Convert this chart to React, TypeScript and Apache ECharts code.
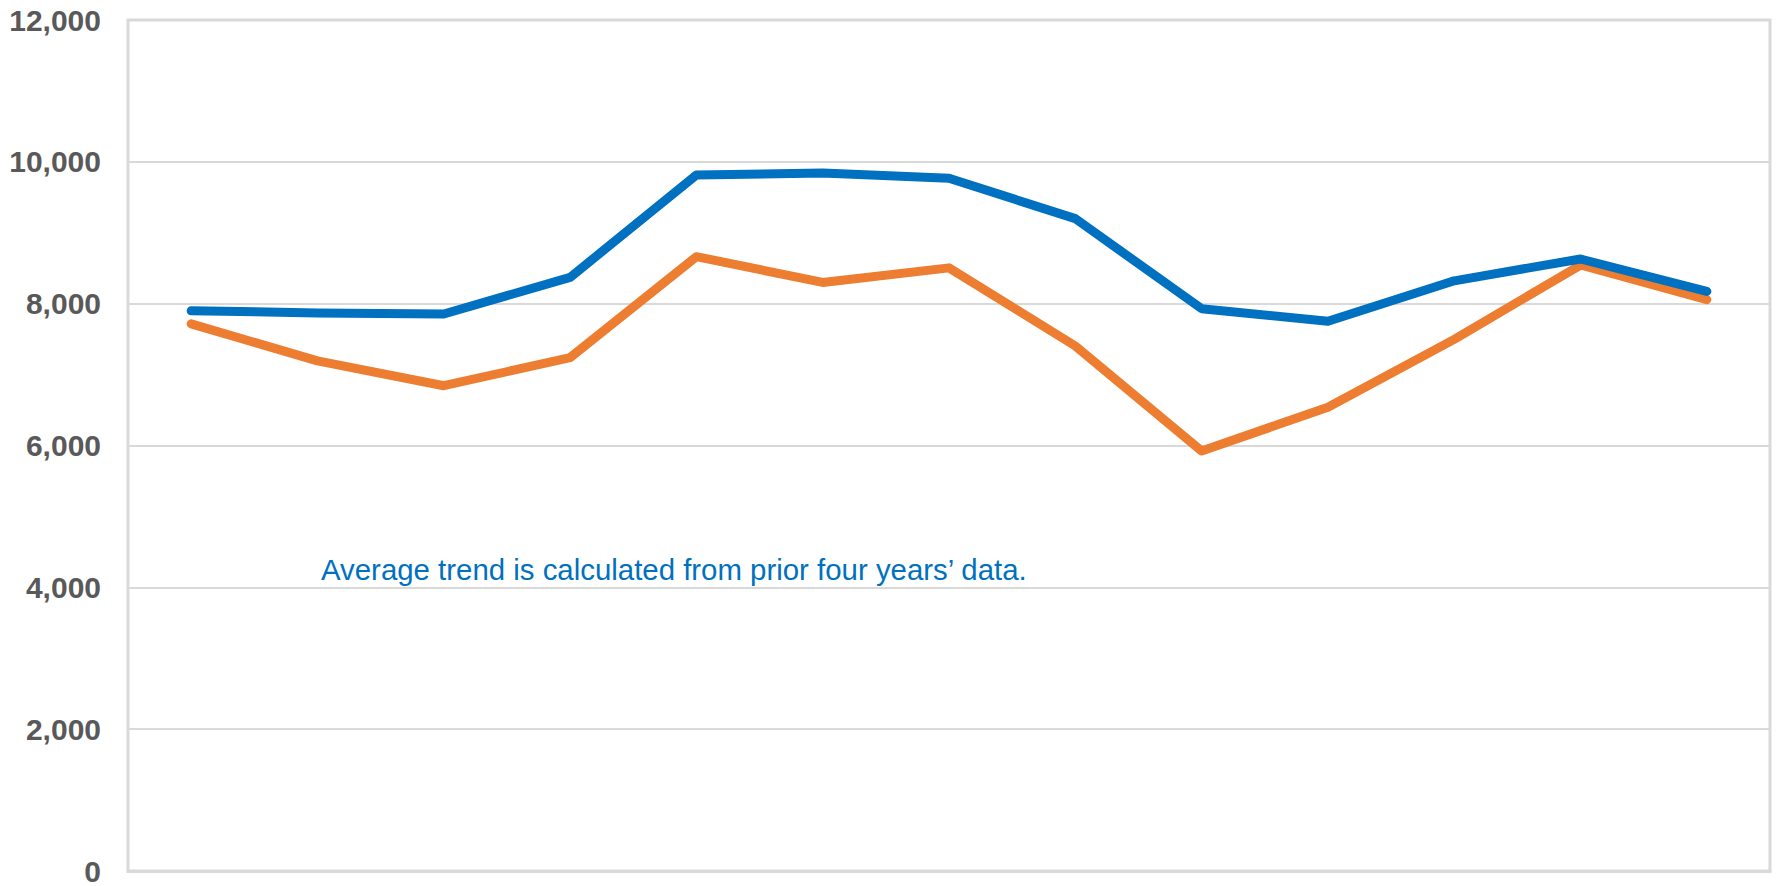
import React, { useEffect, useRef } from "react";
import * as echarts from "echarts";

const periods = ["P1", "P2", "P3", "P4", "P5", "P6", "P7", "P8", "P9", "P10", "P11", "P12", "P13"];
const currentYear = [7900, 7870, 7855, 8370, 9815, 9843, 9768, 9199, 7929, 7753, 8322, 8630, 8172];
const averageTrend = [7715, 7193, 6843, 7239, 8663, 8299, 8505, 7403, 5923, 6539, 7496, 8545, 8057];
const yTicks = [0, 2000, 4000, 6000, 8000, 10000, 12000];
const note = "Average trend is calculated from prior four years\u2019 data.";

export default function App() {
  const ref = useRef<HTMLDivElement>(null);
  useEffect(() => {
    if (!ref.current) return;
    const chart = echarts.init(ref.current, null, { renderer: "svg" });
    chart.setOption({
      animation: false,
      backgroundColor: "#ffffff",
      grid: {
        left: 128,
        right: 7,
        top: 20,
        bottom: 9,
        show: true,
        borderColor: "#D9D9D9",
        borderWidth: 3,
        containLabel: false,
      },
      xAxis: {
        type: "category",
        data: periods,
        boundaryGap: true,
        axisLabel: { show: false },
        axisTick: { show: false },
        axisLine: { show: true, lineStyle: { color: "#D9D9D9", width: 3 } },
        splitLine: { show: false },
      },
      yAxis: {
        type: "value",
        min: yTicks[0],
        max: yTicks[yTicks.length - 1],
        interval: 2000,
        axisLine: { show: false },
        axisTick: { show: false },
        splitLine: { show: true, lineStyle: { color: "#D9D9D9", width: 2 } },
        axisLabel: {
          margin: 27,
          color: "#595959",
          fontSize: 30,
          fontWeight: "bold",
          fontFamily: "Liberation Sans, Arial, sans-serif",
          formatter: (v: number) => v.toLocaleString("en-US"),
        },
      },
      series: [
        {
          name: "Current year",
          type: "line",
          data: currentYear,
          symbol: "none",
          z: 3,
          lineStyle: { color: "#0070C0", width: 9, cap: "round", join: "round" },
          itemStyle: { color: "#0070C0" },
        },
        {
          name: "Average trend",
          type: "line",
          data: averageTrend,
          symbol: "none",
          z: 2,
          lineStyle: { color: "#ED7D31", width: 9, cap: "round", join: "round" },
          itemStyle: { color: "#ED7D31" },
        },
      ],
      graphic: [
        {
          type: "text",
          left: 321,
          top: 555,
          style: {
            text: note,
            fill: "#0070C0",
            fontSize: 29.4,
            fontFamily: "Liberation Sans, Arial, sans-serif",
          },
        },
      ],
    });
    return () => chart.dispose();
  }, []);
  return (
    <div
      ref={ref}
      style={{ position: "fixed", left: 0, top: 0, width: 1777, height: 886 }}
    />
  );
}
